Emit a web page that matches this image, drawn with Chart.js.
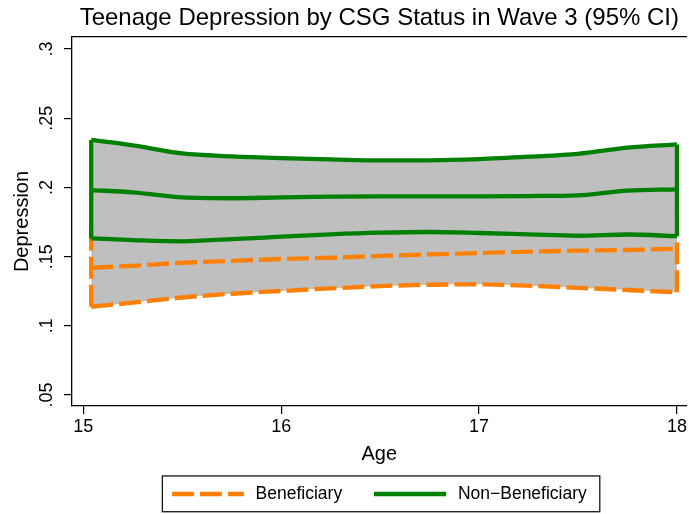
<!DOCTYPE html>
<html>
<head>
<meta charset="utf-8">
<title>Teenage Depression by CSG Status</title>
<script src="https://cdn.jsdelivr.net/npm/chart.js@4/dist/chart.umd.min.js"></script>
<style>
  html, body { margin: 0; padding: 0; background: #fff; }
  #chart { display: block; }
</style>
</head>
<body>
<canvas id="chart" width="689" height="514"></canvas>
<script>
// ─── Data ────────────────────────────────────────────
const ages = [15.04, 15.25, 15.5, 15.75, 16, 16.25, 16.5, 16.75, 17, 17.25, 17.5, 17.75, 18];

// Beneficiary (orange, dashed)
const benMean  = [0.1420, 0.1434, 0.1456, 0.1470, 0.1483, 0.1492, 0.1505, 0.1517, 0.1526, 0.1536, 0.1543, 0.1548, 0.1557];
const benLower = [0.1138, 0.1168, 0.1205, 0.1232, 0.1252, 0.1271, 0.1287, 0.1297, 0.1300, 0.1290, 0.1275, 0.1259, 0.1243];
// upper bound sits under the green band, estimated
const benUpper = [0.1702, 0.1700, 0.1707, 0.1708, 0.1714, 0.1713, 0.1723, 0.1737, 0.1752, 0.1782, 0.1811, 0.1837, 0.1871];

// Non-Beneficiary (green, solid)
const nonMean  = [0.1981, 0.1965, 0.1928, 0.1922, 0.1928, 0.1933, 0.1936, 0.1936, 0.1936, 0.1938, 0.1943, 0.1977, 0.1986];
const nonLower = [0.1632, 0.1620, 0.1611, 0.1627, 0.1644, 0.1661, 0.1673, 0.1678, 0.1671, 0.1661, 0.1651, 0.1660, 0.1648];
const nonUpper = [0.2343, 0.2304, 0.2246, 0.2225, 0.2212, 0.2203, 0.2195, 0.2196, 0.2205, 0.2222, 0.2243, 0.2287, 0.2311];

const xTicks = [15, 16, 17, 18];
const yTicks = [0.05, 0.1, 0.15, 0.2, 0.25, 0.3];
const yTickLabels = ['.05', '.1', '.15', '.2', '.25', '.3'];
const seriesNames = ['Beneficiary', 'Non\u2212Beneficiary'];

// ─── Style ───────────────────────────────────────────
const ORANGE = 'rgb(255,128,0)';
const GREEN = 'rgb(0,128,0)';
const GRAY = 'rgb(191,191,191)';
const DASH = [22, 6];
const LW = 4.3;
const FONT = "'Liberation Sans', Arial, Helvetica, sans-serif";

Chart.defaults.font.family = FONT;
Chart.defaults.color = '#000';

const pts = (ys) => ages.map((a, i) => ({ x: a, y: ys[i] }));
const last = ages.length - 1;
// vertical closing edges of a band (left and right end)
const edges = (lo, up) => [
  { x: ages[0], y: lo[0] }, { x: ages[0], y: up[0] },
  { x: ages[0], y: null },
  { x: ages[last], y: lo[last] }, { x: ages[last], y: up[last] },
];

const curve = (data, color, dash, order, extra) => Object.assign({
  data, borderColor: color, borderWidth: LW, borderDash: dash,
  pointRadius: 0, fill: false, cubicInterpolationMode: 'monotone', order,
}, extra || {});

const datasets = [
  curve(pts(benUpper), ORANGE, DASH, 6, { fill: { target: 1, above: GRAY, below: GRAY }, backgroundColor: GRAY }),
  curve(pts(benLower), ORANGE, DASH, 5),
  curve(edges(benLower, benUpper), ORANGE, DASH, 5, { tension: 0, cubicInterpolationMode: 'default', spanGaps: false }),
  curve(pts(benMean), ORANGE, DASH, 4, { label: seriesNames[0] }),
  curve(pts(nonUpper), GREEN, [], 3, { fill: { target: 5, above: GRAY, below: GRAY }, backgroundColor: GRAY }),
  curve(pts(nonLower), GREEN, [], 2),
  curve(edges(nonLower, nonUpper), GREEN, [], 2, { tension: 0, cubicInterpolationMode: 'default', spanGaps: false }),
  curve(pts(nonMean), GREEN, [], 1, { label: seriesNames[1] }),
];

// legend key: a line sample drawn on a small canvas
function keyLine(color, dash) {
  const c = document.createElement('canvas');
  c.width = 75; c.height = 8;
  const g = c.getContext('2d');
  g.strokeStyle = color; g.lineWidth = 4.7; g.setLineDash(dash);
  g.beginPath(); g.moveTo(0, 4); g.lineTo(72, 4); g.stroke();
  return c;
}
const keys = [keyLine(ORANGE, DASH), keyLine(GREEN, [])];

// box around the legend, Stata style
const legendFrame = {
  id: 'legendFrame',
  afterDraw(chart) {
    const hb = chart.legend && chart.legend.legendHitBoxes;
    if (!hb || !hb.length) return;
    const ctx = chart.ctx;
    const l = hb[0].left - 9.5;
    const r = hb[hb.length - 1].left + hb[hb.length - 1].width + 13;
    const t = hb[0].top - 9.3;
    const b = hb[0].top + hb[0].height + 9;
    ctx.save();
    ctx.strokeStyle = '#000';
    ctx.lineWidth = 1.2;
    ctx.strokeRect(l, t, r - l, b - t);
    ctx.restore();
  },
};

const tickGrid = { display: true, drawOnChartArea: false, drawTicks: true, tickLength: 8, color: '#000', lineWidth: 1.2 };
const axisBorder = { display: true, color: '#000', width: 1.3 };

new Chart(document.getElementById('chart'), {
  type: 'line',
  data: { datasets },
  plugins: [legendFrame],
  options: {
    responsive: false,
    animation: false,
    devicePixelRatio: 1,
    events: [],
    layout: { padding: { left: 0, right: 0, top: 0, bottom: 1.25 }, autoPadding: false },
    plugins: {
      title: {
        display: true,
        text: 'Teenage Depression by CSG Status in Wave 3 (95% CI)',
        fullSize: false,
        color: '#000',
        font: { size: 24, weight: 'normal', lineHeight: 1.2 },
        padding: { top: 4, bottom: 4.2 },
      },
      legend: {
        position: 'bottom',
        fullSize: false,
        labels: {
          usePointStyle: true,
          pointStyleWidth: 75,
          padding: 32,
          color: '#000',
          font: { size: 17.5 },
          generateLabels: () => seriesNames.map((name, i) => ({
            text: name, pointStyle: keys[i], fontColor: '#000',
            hidden: false, lineWidth: 0, datasetIndex: i === 0 ? 3 : 7,
          })),
        },
      },
      tooltip: { enabled: false },
    },
    scales: {
      x: {
        type: 'linear',
        min: 14.943,
        max: 18.049,
        afterBuildTicks: (s) => { s.ticks = xTicks.map((v) => ({ value: v })); },
        afterFit: (s) => { s.height = 47.25; },
        grid: tickGrid,
        border: axisBorder,
        ticks: { autoSkip: false, maxRotation: 0, padding: 2, font: { size: 18 }, color: '#000' },
        title: { display: true, text: 'Age', color: '#000', font: { size: 20 }, padding: { top: 0, bottom: -13 } },
      },
      x2: {
        type: 'linear',
        position: 'top',
        afterFit: (s) => { s.height = 0; },
        grid: { display: false, drawTicks: false },
        ticks: { display: false },
        border: axisBorder,
      },
      y: {
        min: 0.0421,
        max: 0.3087,
        afterBuildTicks: (s) => { s.ticks = yTicks.map((v) => ({ value: v })); },
        afterFit: (s) => { s.width = 72; },
        grid: tickGrid,
        border: axisBorder,
        ticks: {
          autoSkip: false, minRotation: 90, maxRotation: 90, crossAlign: 'center', padding: 4.2,
          font: { size: 18 }, color: '#000',
          callback: (v) => yTickLabels[yTicks.indexOf(v)],
        },
        title: { display: true, text: 'Depression', color: '#000', font: { size: 20 }, padding: { top: 10.4, bottom: 0 } },
      },
    },
  },
});
</script>
</body>
</html>
